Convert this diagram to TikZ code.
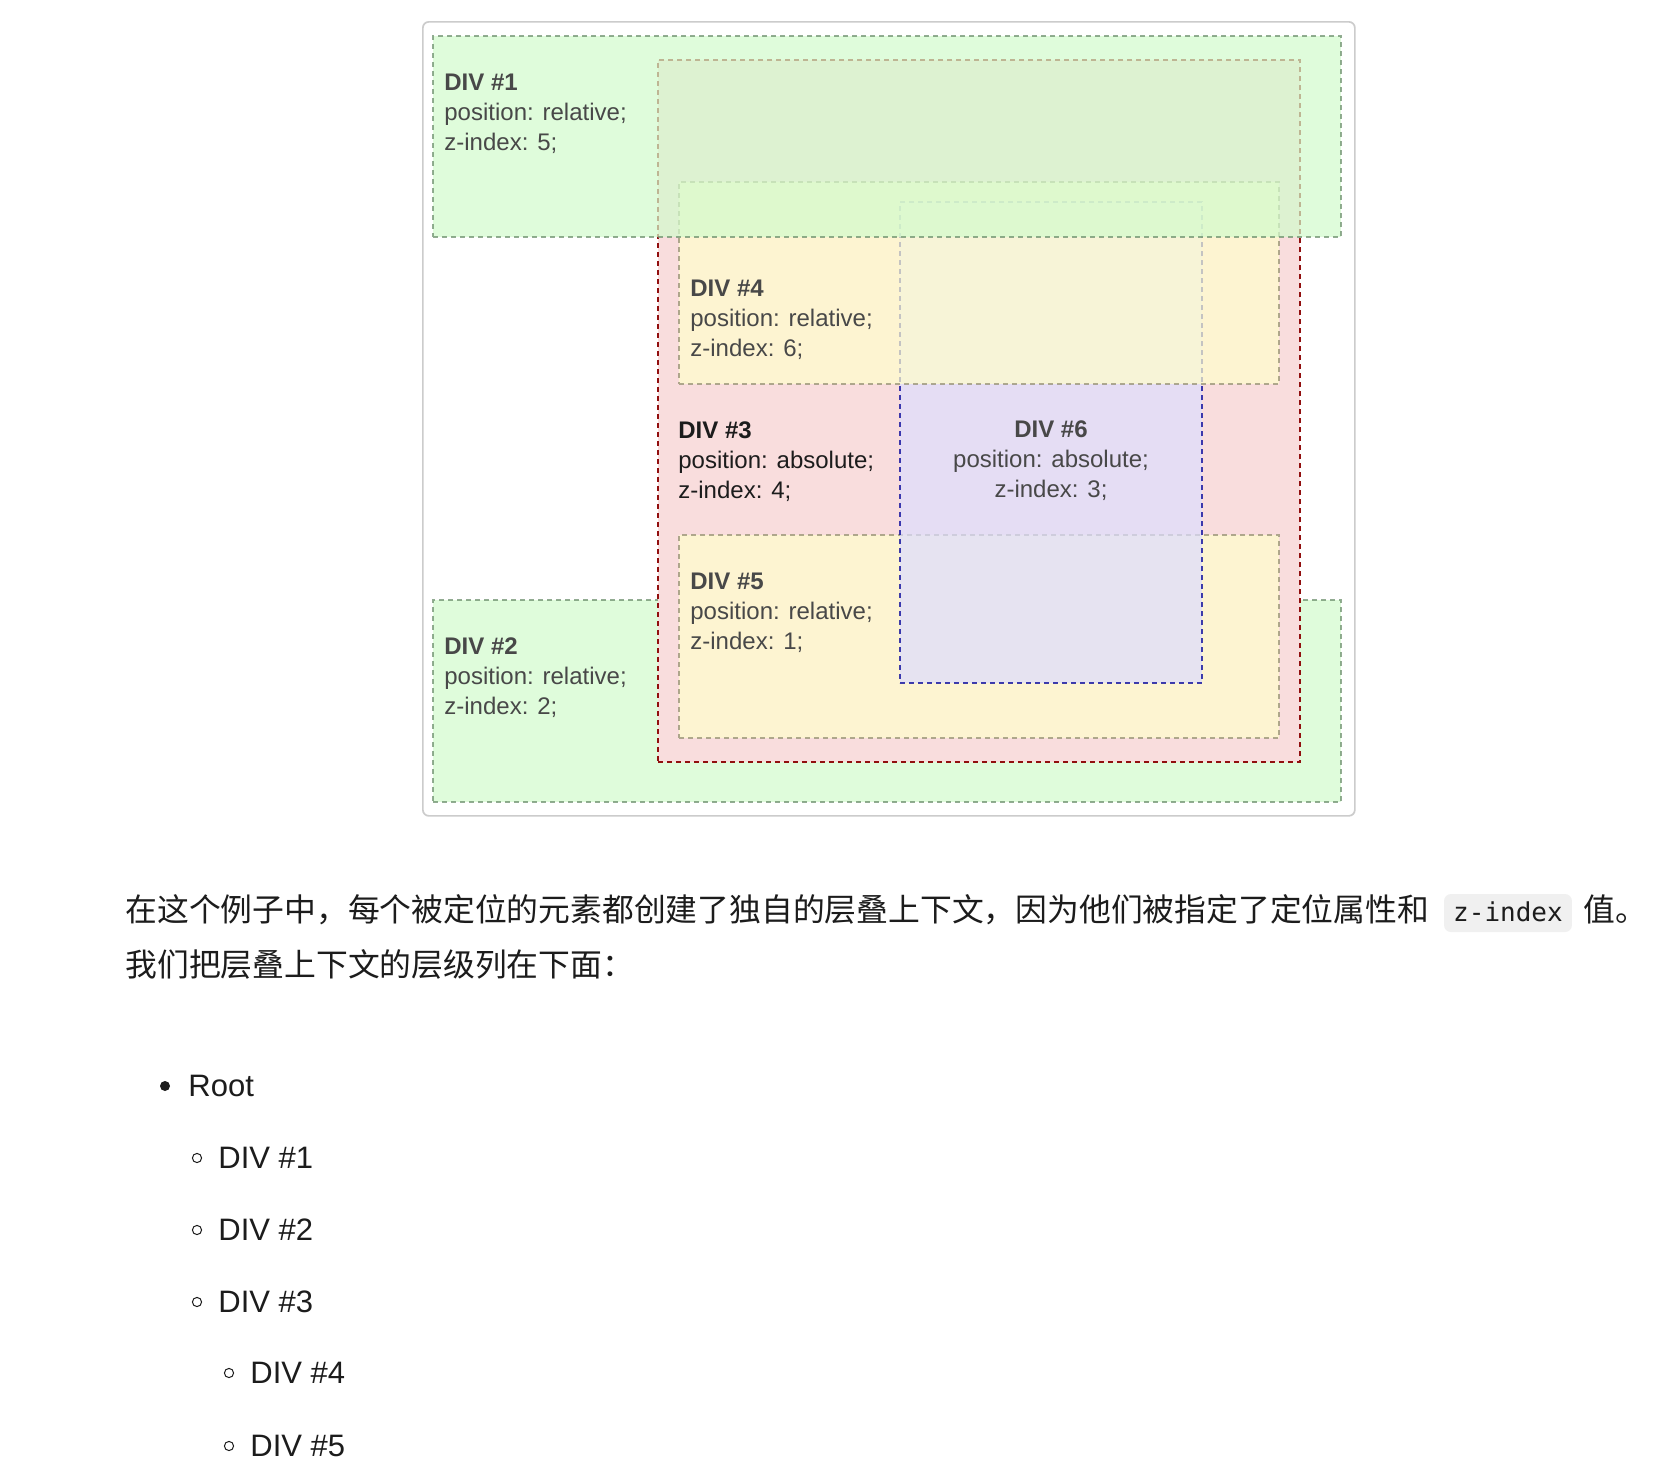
\documentclass[tikz,border=0pt]{standalone}
\usepackage{fontspec}
\setmainfont{Liberation Sans}
\setmonofont{DejaVu Sans Mono}
\newfontfamily\cjkfont{Noto Sans CJK SC}
\usetikzlibrary{positioning}

\definecolor{divgreen}{RGB}{210,252,204}
\definecolor{divgreenline}{RGB}{110,145,110}
\definecolor{divpink}{RGB}{249,221,221}
\definecolor{divpinkline}{RGB}{145,15,15}
\definecolor{divyellow}{RGB}{255,255,204}
\definecolor{divyellowline}{RGB}{150,145,115}
\definecolor{divlilac}{RGB}{221,221,255}
\definecolor{divlilacline}{RGB}{0,0,153}
\definecolor{labeltext}{RGB}{72,72,72}
\definecolor{frameline}{RGB}{204,204,204}
\definecolor{bodytext}{RGB}{28,28,28}
\definecolor{codebg}{RGB}{240,240,240}

\begin{document}
\begin{tikzpicture}[
    x=0.5pt, y=-0.5pt,
    % === STYLES ===
    divbox/.style={
        draw=div#1line,
        fill=div#1,
        fill opacity=0.7,
        draw opacity=0.75,
        line width=0.75pt,
        dash pattern=on 2.5pt off 2pt,
        inner sep=0,
        outer sep=0,
        anchor=north west
    },
    divlabel/.style={
        inner sep=0,
        align=left,
        text=labeltext,
        font=\fontsize{12}{15}\selectfont
    },
    frame/.style={
        draw=frameline,
        fill=white,
        line width=0.85pt,
        rounded corners=3pt,
        inner sep=0,
        anchor=north west
    },
    para/.style={
        inner sep=0,
        anchor=base west,
        text=bodytext,
        font=\cjkfont\fontsize{15.9}{25}\selectfont
    },
    code/.style={
        fill=codebg,
        rounded corners=3.5pt,
        inner xsep=4.6pt,
        inner ysep=3pt,
        text height=10.5pt,
        text depth=2.5pt,
        text=bodytext,
        font=\ttfamily\fontsize{13}{15}\selectfont
    },
    listitem/.style={
        inner sep=0,
        anchor=base west,
        text=bodytext,
        font=\fontsize{15.5}{18}\selectfont
    },
    bullet/.style={
        circle,
        fill=bodytext,
        inner sep=0,
        minimum size=5pt
    },
    hollow/.style={
        circle,
        draw=bodytext,
        line width=0.5pt,
        inner sep=0,
        minimum size=4.6pt
    }
]

\fill[white] (0,0) rectangle (1662,1484);
\useasboundingbox (0,0) rectangle (1662,1484);

% === FRAME ===
\node[frame, minimum width=466pt, minimum height=397pt] (frame) at (422,21) {};

% === ROOT LEVEL: DIV #2 ===
\node[divbox=green, minimum width=454pt, minimum height=101pt] (div2) at (433,600) {};
\node[divlabel, below right=18.5pt and 5.5pt of div2.north west]
    (lab2) {\textbf{DIV \#2}\\position: relative;\\z-index: 2;};

% === ROOT LEVEL: DIV #3 (opaque) ===
\node[divbox=pink, minimum width=321pt, minimum height=351pt, line width=0.85pt,
      fill opacity=1, draw opacity=1] (div3) at (658,60) {};
\node[divlabel, text=bodytext, below right=180.5pt and 10pt of div3.north west]
    (lab3) {\textbf{DIV \#3}\\position: absolute;\\z-index: 4;};

% DIV #5 inside DIV #3
\node[divbox=yellow, minimum width=300pt, minimum height=101.5pt] (div5) at (679,535) {};
\node[divlabel, below right=19pt and 5.5pt of div5.north west]
    (lab5) {\textbf{DIV \#5}\\position: relative;\\z-index: 1;};

% DIV #6 inside DIV #3
\node[divbox=lilac, minimum width=151pt, minimum height=240.5pt] (div6) at (900,202) {};
\node[divlabel, align=center, below=109pt of div6.north]
    (lab6) {\textbf{DIV \#6}\\position: absolute;\\z-index: 3;};

% DIV #4 inside DIV #3
\node[divbox=yellow, minimum width=300pt, minimum height=101pt] (div4) at (679,182) {};
\node[divlabel, below right=49pt and 5.5pt of div4.north west]
    (lab4) {\textbf{DIV \#4}\\position: relative;\\z-index: 6;};

% === ROOT LEVEL: DIV #1 ===
\node[divbox=green, minimum width=454pt, minimum height=100.5pt] (div1) at (433,36) {};
\node[divlabel, below right=19pt and 5.5pt of div1.north west]
    (lab1) {\textbf{DIV \#1}\\position: relative;\\z-index: 5;};

% === TEXT BELOW ===
\node[para] (line1) at (125,921)
    {在这个例子中，每个被定位的元素都创建了独自的层叠上下文，因为他们被指定了定位属性和};
\node[code, right=7pt of line1.base east, anchor=base west] (zidx) {z-index};
\node[para, right=5.5pt of zidx.base east, anchor=base west] (line1b) {值。};
\node[para] (line2) at (125,976) {我们把层叠上下文的层级列在下面：};

% === LIST ===
\node[bullet] (dot0) at (165,1086) {};
\node[listitem] (item0) at (188,1096) {Root};
\foreach \n/\lvl/\y in {1/0/1168, 2/0/1240, 3/0/1312, 4/1/1383, 5/1/1456} {
    \node[hollow] (dot\n) at (197+32*\lvl,\y-10) {};
    \node[listitem] (item\n) at (218+32*\lvl,\y) {DIV \#\n};
}

\end{tikzpicture}
\end{document}
